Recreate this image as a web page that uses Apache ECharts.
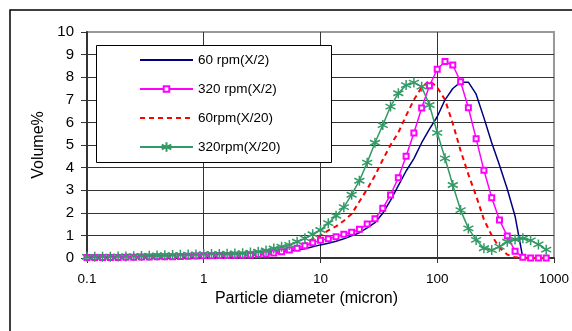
<!DOCTYPE html>
<html>
<head>
<meta charset="utf-8">
<script src="https://cdn.jsdelivr.net/npm/echarts@6/dist/echarts.min.js"></script>
<style>
    html, body { margin: 0; padding: 0; background: #fff; }
    #main { width: 572px; height: 331px; }
</style>
</head>
<body>
<div id="main"></div>
<script>
// particle size classes (micron), 15 per decade
var sizes = [
    0.1, 0.1166, 0.1359, 0.1585, 0.1848, 0.2154, 0.2512, 0.2929, 0.3415, 0.3981, 0.4642, 0.5412, 0.6310, 0.7356, 0.8577,
    1, 1.166, 1.359, 1.585, 1.848, 2.154, 2.512, 2.929, 3.415, 3.981, 4.642, 5.412, 6.310, 7.356, 8.577,
    10, 11.66, 13.59, 15.85, 18.48, 21.54, 25.12, 29.29, 34.15, 39.81, 46.42, 54.12, 63.10, 73.56, 85.77,
    100, 116.6, 135.9, 158.5, 184.8, 215.4, 251.2, 292.9, 341.5, 398.1, 464.2, 541.2, 631.0, 735.6, 857.7
];

var seriesNames = ['60 rpm(X/2)', '320 rpm(X/2)', '60rpm(X/20)', '320rpm(X/20)'];

var rpm60x2 = [
    0.01, 0.01, 0.01, 0.01, 0.02, 0.02, 0.02, 0.03, 0.03, 0.04, 0.04, 0.05, 0.06, 0.07, 0.08,
    0.08, 0.09, 0.09, 0.10, 0.10, 0.11, 0.12, 0.14, 0.17, 0.21, 0.26, 0.29, 0.36, 0.41, 0.50,
    0.58, 0.65, 0.74, 0.85, 0.98, 1.12, 1.33, 1.56, 1.98, 2.55, 3.20, 3.85, 4.40, 5.10, 5.70,
    6.25, 7.00, 7.50, 7.78, 7.78, 7.25, 6.20, 5.10, 4.10, 3.05, 1.85, 0, 0, 0, 0
];

var rpm320x2 = [
    0.02, 0.02, 0.02, 0.02, 0.02, 0.03, 0.03, 0.04, 0.04, 0.05, 0.05, 0.06, 0.07, 0.08, 0.09,
    0.10, 0.10, 0.11, 0.11, 0.12, 0.12, 0.13, 0.15, 0.18, 0.22, 0.28, 0.35, 0.43, 0.54, 0.68,
    0.78, 0.85, 0.94, 1.05, 1.14, 1.27, 1.50, 1.74, 2.20, 2.79, 3.55, 4.50, 5.53, 6.64, 7.62,
    8.35, 8.69, 8.54, 7.80, 6.65, 5.28, 3.88, 2.67, 1.68, 0.97, 0.30, 0.03, 0, 0, 0
];

var rpm60x20 = [
    0.02, 0.02, 0.03, 0.03, 0.03, 0.04, 0.04, 0.05, 0.05, 0.06, 0.07, 0.07, 0.08, 0.09, 0.10,
    0.11, 0.12, 0.12, 0.13, 0.14, 0.15, 0.17, 0.20, 0.24, 0.29, 0.35, 0.42, 0.50, 0.65, 0.85,
    1.00, 1.22, 1.40, 1.65, 1.95, 2.50, 3.05, 3.65, 4.35, 5.00, 5.55, 6.30, 7.00, 7.55, 7.85,
    7.55, 7.00, 5.95, 4.75, 3.70, 2.75, 1.70, 1.00, 0.45, 0.15, 0.03, 0, 0, 0, 0
];

var rpm320x20 = [
    0.05, 0.05, 0.06, 0.06, 0.07, 0.07, 0.08, 0.09, 0.10, 0.11, 0.12, 0.13, 0.14, 0.15, 0.16,
    0.17, 0.18, 0.18, 0.19, 0.20, 0.21, 0.24, 0.28, 0.33, 0.42, 0.50, 0.58, 0.72, 0.87, 1.05,
    1.24, 1.54, 1.87, 2.25, 2.80, 3.42, 4.22, 5.10, 5.88, 6.70, 7.29, 7.65, 7.76, 7.58, 6.77,
    5.54, 4.41, 3.23, 2.12, 1.31, 0.80, 0.43, 0.35, 0.50, 0.72, 0.82, 0.87, 0.78, 0.60, 0.37
];

var pairs = function (vals) {
    return sizes.map(function (s, i) { return [s, vals[i]]; });
};

var font = 'Liberation Sans, Arial, sans-serif';
// asterisk marker like excel's
var star = 'path://M5,0L5,10M0.7,2.5L9.3,7.5M0.7,7.5L9.3,2.5';

// one legend per entry so each icon can get its own size
var legendTops = [53, 82, 111, 140];
var legendHeights = [14, 7, 14, 12];
var legends = seriesNames.map(function (n, i) {
    var item = { name: n };
    if (i === 0 || i === 2) {
        item.itemStyle = { opacity: 0 }; // plain line, no marker
    }
    return {
        left: 139,
        top: legendTops[i],
        itemWidth: 53,
        itemHeight: legendHeights[i],
        padding: 0,
        z: 5,
        textStyle: { fontFamily: font, fontSize: 13.5, color: '#000' },
        data: [item]
    };
});

var myChart = echarts.init(document.getElementById('main'));
var option = {
    animation: false,
    backgroundColor: '#fff',
    textStyle: { fontFamily: font },
    grid: {
        left: 87, right: 17, top: 32, bottom: 73,
        show: true,
        borderColor: '#999',
        borderWidth: 2
    },
    graphic: [
        {
            type: 'rect',
            shape: { x: 10, y: 10, width: 620, height: 400 },
            style: { fill: 'none', stroke: '#000', lineWidth: 1.5 },
            z: 1
        },
        {
            type: 'rect',
            shape: { x: 96.5, y: 45.5, width: 235, height: 117 },
            style: { fill: '#fff', stroke: '#000', lineWidth: 1 },
            z: 3
        }
    ],
    legend: legends,
    xAxis: {
        type: 'log',
        logBase: 10,
        min: 0.1,
        max: 1000,
        name: 'Particle diameter (micron)',
        nameLocation: 'middle',
        nameGap: 32,
        nameTextStyle: { fontFamily: font, fontSize: 16, color: '#000', padding: [0, 28, 0, 0] },
        axisLine: { onZero: false, lineStyle: { color: '#333', width: 2 } },
        axisTick: { show: true, length: 5, lineStyle: { color: '#333' } },
        axisLabel: {
            fontFamily: font, fontSize: 13.5, color: '#000', margin: 14,
            formatter: function (v) { return String(v); }
        },
        splitLine: { show: true, showMaxLine: false, lineStyle: { color: '#333', width: 1 } },
        minorTick: { show: false }
    },
    yAxis: {
        type: 'value',
        min: 0,
        max: 10,
        interval: 1,
        name: 'Volume%',
        nameLocation: 'middle',
        nameGap: 38,
        nameTextStyle: { fontFamily: font, fontSize: 16, color: '#000' },
        axisLine: { show: true, lineStyle: { color: '#333', width: 2 } },
        axisTick: { show: true, length: 6, lineStyle: { color: '#333' } },
        axisLabel: { fontFamily: font, fontSize: 15, color: '#000', margin: 13 },
        splitLine: { show: true, showMaxLine: false, lineStyle: { color: '#333', width: 1 } }
    },
    series: [
        {
            name: seriesNames[0],
            type: 'line',
            symbol: 'none',
            showSymbol: false,
            color: '#000080',
            lineStyle: { color: '#000080', width: 1.5 },
            data: pairs(rpm60x2)
        },
        {
            name: seriesNames[1],
            type: 'line',
            symbol: 'emptyRect',
            symbolSize: 5,
            color: '#ff00ff',
            itemStyle: { color: '#ff00ff', borderColor: '#ff00ff', borderWidth: 1.2 },
            lineStyle: { color: '#ff00ff', width: 1.5 },
            data: pairs(rpm320x2)
        },
        {
            name: seriesNames[2],
            type: 'line',
            symbol: 'none',
            showSymbol: false,
            color: '#ff0000',
            lineStyle: { color: '#ff0000', width: 2, type: [5, 4] },
            data: pairs(rpm60x20)
        },
        {
            name: seriesNames[3],
            type: 'line',
            symbol: star,
            symbolSize: 10,
            color: '#339966',
            itemStyle: { color: '#339966', borderColor: '#339966', borderWidth: 1.5 },
            lineStyle: { color: '#339966', width: 1.5 },
            data: pairs(rpm320x20)
        }
    ]
};
myChart.setOption(option);
</script>
</body>
</html>
